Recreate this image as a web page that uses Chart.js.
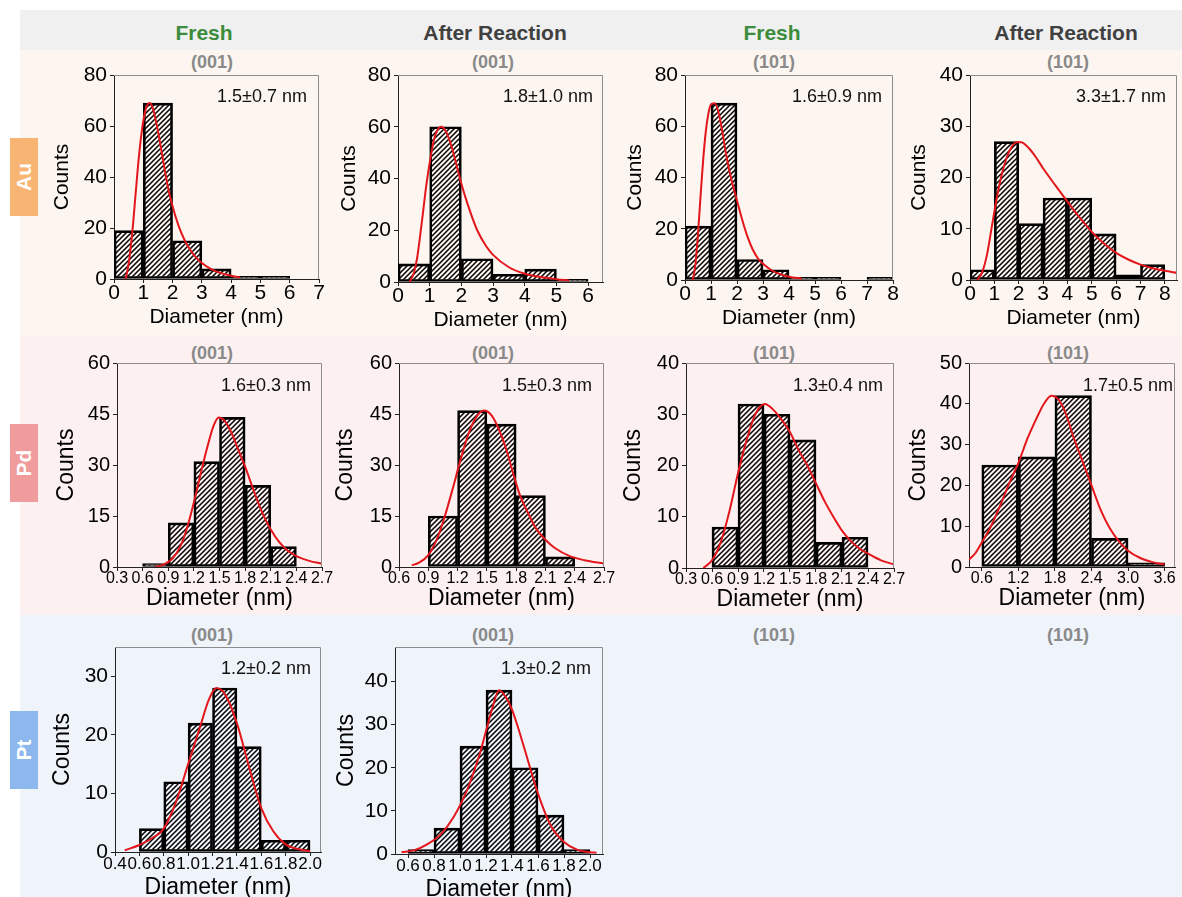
<!DOCTYPE html>
<html>
<head>
<meta charset="utf-8">
<title>Particle size distributions</title>
<script src="https://cdn.jsdelivr.net/npm/chart.js@4/dist/chart.umd.min.js"></script>
<style>
  html, body { margin: 0; padding: 0; background: #fff; }
  #fig { position: relative; width: 1182px; height: 897px; overflow: hidden;
         font-family: "Liberation Sans", Arial, Helvetica, sans-serif; }
  .band { position: absolute; left: 20px; width: 1162px; }
  .col { position: absolute; top: 18px; line-height: 30px; font-size: 21px; font-weight: bold;
         transform: translateX(-50%); white-space: nowrap; }
  .badge { position: absolute; left: 10px; width: 28px; height: 78px; }
  .badge span { position: absolute; left: 50%; top: 50%; color: #fff; font-weight: bold; font-size: 21px;
                transform: translate(-50%, -50%) rotate(-90deg); white-space: nowrap; }
  .facet { position: absolute; font-size: 18px; line-height: 20px; font-weight: bold; color: #8a8a8a;
           transform: translate(-50%, -50%); white-space: nowrap; }
  canvas { position: absolute; }
</style>
</head>
<body>
<div id="fig">
  <div class="band" style="top:10px;height:40px;background:#f0f0f0;"></div>
  <div class="band" style="top:50px;height:285px;background:#fdf6f0;"></div>
  <div class="band" style="top:335px;height:280px;background:#fcf0f0;"></div>
  <div class="band" style="top:615px;height:282px;background:#eff3fa;"></div>

  <div class="col" style="left:204px;color:#3b8c3b;">Fresh</div>
  <div class="col" style="left:495px;color:#404040;">After Reaction</div>
  <div class="col" style="left:772px;color:#3b8c3b;">Fresh</div>
  <div class="col" style="left:1066px;color:#404040;">After Reaction</div>

  <div class="badge" style="top:138px;background:#f7b473;"><span>Au</span></div>
  <div class="badge" style="top:424px;background:#f19c9c;"><span>Pd</span></div>
  <div class="badge" style="top:711px;background:#8db8ee;"><span>Pt</span></div>

  <div class="facet" style="left:212px;top:62px;">(001)</div>
  <div class="facet" style="left:493px;top:62px;">(001)</div>
  <div class="facet" style="left:774px;top:62px;">(101)</div>
  <div class="facet" style="left:1068px;top:62px;">(101)</div>
  <div class="facet" style="left:212px;top:353px;">(001)</div>
  <div class="facet" style="left:493px;top:353px;">(001)</div>
  <div class="facet" style="left:774px;top:353px;">(101)</div>
  <div class="facet" style="left:1068px;top:353px;">(101)</div>
  <div class="facet" style="left:212px;top:635px;">(001)</div>
  <div class="facet" style="left:493px;top:635px;">(001)</div>
  <div class="facet" style="left:774px;top:635px;">(101)</div>
  <div class="facet" style="left:1068px;top:635px;">(101)</div>
</div>

<script>
// ---------- Au, fresh, (001) ----------
const auFresh001Centers = [0.5, 1.5, 2.5, 3.5, 4.5, 5.5];
const auFresh001Counts  = [19, 69, 15, 4, 1, 1];
const auFresh001FitX = [0.4, 0.5, 0.63, 0.75, 0.85, 0.95, 1.05, 1.15, 1.23, 1.35, 1.5, 1.7, 1.85, 2.0, 2.2, 2.4, 2.6, 2.8, 3.0, 3.3, 3.6, 4.0, 4.3];
const auFresh001FitY = [0, 6, 19, 35, 48, 58, 65, 68.5, 69, 66, 58, 45, 35.5, 28.5, 21, 15.5, 11.5, 8.5, 6.3, 4, 2.5, 1.3, 0.6];

// ---------- Au, after reaction, (001) ----------
const auAfter001Centers = [0.5, 1.5, 2.5, 3.5, 4.5, 5.5];
const auAfter001Counts  = [7, 60, 9, 3, 5, 1];
const auAfter001FitX = [0.37, 0.5, 0.6, 0.7, 0.8, 0.9, 1.0, 1.1, 1.2, 1.35, 1.5, 1.7, 1.85, 2.0, 2.2, 2.5, 2.8, 3.0, 3.5, 4.0, 4.5, 5.0, 5.4];
const auAfter001FitY = [0, 3.5, 9, 18, 28, 38, 46, 53, 57.5, 60, 58.5, 52, 45, 38, 30, 20, 13.5, 10.5, 5.7, 3.2, 1.9, 1.1, 0.6];

// ---------- Au, fresh, (101) ----------
const auFresh101Centers = [0.5, 1.5, 2.5, 3.5, 4.5, 5.5, 7.5];
const auFresh101Counts  = [21, 69, 8, 4, 1, 1, 1];
const auFresh101FitX = [0.3, 0.4, 0.5, 0.6, 0.7, 0.8, 0.9, 1.0, 1.15, 1.3, 1.45, 1.6, 1.8, 2.0, 2.2, 2.4, 2.6, 2.8, 3.0, 3.3, 3.6, 4.0, 4.5];
const auFresh101FitY = [0, 6, 18, 33, 47, 58, 65, 68.5, 69, 65, 57, 48, 38.5, 31, 23.5, 17, 12, 8.5, 6.3, 4, 2.5, 1.3, 0.5];

// ---------- Au, after reaction, (101) ----------
const auAfter101Centers = [0.5, 1.5, 2.5, 3.5, 4.5, 5.5, 6.5, 7.5];
const auAfter101Counts  = [2, 27, 11, 16, 16, 9, 1, 3];
const auAfter101FitX = [0.3, 0.5, 0.7, 0.9, 1.1, 1.3, 1.5, 1.7, 1.9, 2.1, 2.4, 2.7, 3.0, 3.5, 4.0, 4.5, 5.0, 5.5, 6.0, 6.5, 7.0, 7.5, 8.0, 8.5];
const auAfter101FitY = [0, 1.5, 5, 10.5, 16, 20.5, 23.8, 25.9, 26.9, 26.9, 25.8, 24, 21.8, 18.5, 15.3, 12.2, 9.4, 7.1, 5.3, 4, 3, 2.3, 1.8, 1.4];

// ---------- Pd, fresh, (001) ----------
const pdFresh001Centers = [0.75, 1.05, 1.35, 1.65, 1.95, 2.25];
const pdFresh001Counts  = [1, 13, 31, 44, 24, 6];
const pdFresh001FitX = [0.75, 0.85, 0.95, 1.05, 1.12, 1.2, 1.28, 1.36, 1.43, 1.49, 1.56, 1.64, 1.72, 1.8, 1.9, 2.0, 2.1, 2.2, 2.3, 2.4, 2.55, 2.7];
const pdFresh001FitY = [0, 0.8, 2.5, 6.5, 11.5, 19, 27.5, 35.5, 41.5, 44, 43, 39.5, 34.5, 29.5, 22.5, 16, 11, 7.3, 4.8, 3.2, 1.8, 1];

// ---------- Pd, after reaction, (001) ----------
const pdAfter001Centers = [1.05, 1.35, 1.65, 1.95, 2.25];
const pdAfter001Counts  = [15, 46, 42, 21, 3];
const pdAfter001FitX = [0.73, 0.8, 0.9, 1.0, 1.07, 1.15, 1.23, 1.31, 1.39, 1.47, 1.55, 1.63, 1.7, 1.77, 1.84, 1.92, 2.0, 2.1, 2.2, 2.35, 2.5, 2.7];
const pdAfter001FitY = [0.5, 1.2, 3.5, 9, 15, 23, 31.5, 39, 44, 46, 44.5, 40, 34.5, 27.5, 21, 16, 11.5, 8, 5.5, 3.2, 2, 1];

// ---------- Pd, fresh, (101) ----------
const pdFresh101Centers = [0.75, 1.05, 1.35, 1.65, 1.95, 2.25];
const pdFresh101Counts  = [8, 32, 30, 25, 5, 6];
const pdFresh101FitX = [0.5, 0.6, 0.7, 0.8, 0.9, 1.0, 1.1, 1.21, 1.3, 1.4, 1.5, 1.6, 1.7, 1.8, 1.9, 2.0, 2.1, 2.2, 2.3, 2.4, 2.55, 2.7];
const pdFresh101FitY = [0, 1.5, 5, 11, 18.5, 25, 30, 32, 31, 29, 26.5, 23, 20, 16.5, 13, 10, 7.3, 5.3, 3.8, 2.8, 1.5, 0.7];

// ---------- Pd, after reaction, (101) ----------
const pdAfter101Centers = [0.9, 1.5, 2.1, 2.7, 3.3];
const pdAfter101Counts  = [25, 27, 42, 7, 1];
const pdAfter101FitX = [0.39, 0.5, 0.6, 0.75, 0.9, 1.05, 1.2, 1.35, 1.5, 1.62, 1.74, 1.86, 1.98, 2.1, 2.25, 2.4, 2.55, 2.7, 2.85, 3.0, 3.2, 3.4, 3.6];
const pdAfter101FitY = [1.8, 3.5, 6, 10, 15, 20.5, 25.5, 31.5, 36.5, 40, 42, 41, 37.5, 32, 26, 20, 14, 9.5, 6.3, 4, 2.2, 1.2, 0.6];

// ---------- Pt, fresh, (001) ----------
const ptFresh001Centers = [0.7, 0.9, 1.1, 1.3, 1.5, 1.7, 1.9];
const ptFresh001Counts  = [4, 12, 22, 28, 18, 2, 2];
const ptFresh001FitX = [0.48, 0.6, 0.7, 0.8, 0.9, 1.0, 1.1, 1.17, 1.23, 1.3, 1.4, 1.5, 1.6, 1.7, 1.8, 1.9, 2.0];
const ptFresh001FitY = [0.3, 1.2, 2.3, 4, 8.5, 15, 21.5, 26, 28, 27, 22, 14.5, 7.5, 3.5, 1.3, 0.5, 0.15];

// ---------- Pt, after reaction, (001) ----------
const ptAfter001Centers = [0.7, 0.9, 1.1, 1.3, 1.5, 1.7, 1.9];
const ptAfter001Counts  = [1, 6, 25, 38, 20, 9, 1];
const ptAfter001FitX = [0.55, 0.65, 0.75, 0.85, 0.95, 1.05, 1.1, 1.15, 1.2, 1.25, 1.3, 1.35, 1.4, 1.45, 1.5, 1.6, 1.7, 1.8, 1.9, 2.0, 2.05];
const ptAfter001FitY = [0.4, 0.9, 2.3, 4.5, 8.5, 14.5, 18.5, 23, 28.5, 34, 38, 36.5, 33.5, 29, 24, 14, 6.5, 2.8, 1, 0.4, 0.3];

// ---------- axis ticks ----------
const ticksAu0to7   = [0, 1, 2, 3, 4, 5, 6, 7];
const ticksAu0to6   = [0, 1, 2, 3, 4, 5, 6];
const ticksAu0to8   = [0, 1, 2, 3, 4, 5, 6, 7, 8];
const ticksPd03to27 = [0.3, 0.6, 0.9, 1.2, 1.5, 1.8, 2.1, 2.4, 2.7];
const ticksPd06to27 = [0.6, 0.9, 1.2, 1.5, 1.8, 2.1, 2.4, 2.7];
const ticksPd06to36 = [0.6, 1.2, 1.8, 2.4, 3.0, 3.6];
const ticksPt04to20 = [0.4, 0.6, 0.8, 1.0, 1.2, 1.4, 1.6, 1.8, 2.0];
const ticksPt06to20 = [0.6, 0.8, 1.0, 1.2, 1.4, 1.6, 1.8, 2.0];
const countTicks80  = [0, 20, 40, 60, 80];
const countTicks40  = [0, 10, 20, 30, 40];
const countTicks60  = [0, 15, 30, 45, 60];
const countTicks50  = [0, 10, 20, 30, 40, 50];
const countTicks30  = [0, 10, 20, 30];

// ---------- drawing ----------
const FONT = '"Liberation Sans", Arial, Helvetica, sans-serif';
const FIT_RED = '#e3161c';
const Y_BOX = 80, X_BOX = 50, PAD_TOP = 30, PAD_RIGHT = 18;

// diagonal "////" fill for the histogram bars
function makeHatch() {
  const c = document.createElement('canvas');
  c.width = 5; c.height = 5;
  const g = c.getContext('2d');
  g.strokeStyle = '#000';
  g.lineWidth = 1.5;
  g.beginPath();
  g.moveTo(-1, 6); g.lineTo(6, -1);
  g.moveTo(-1, 1); g.lineTo(1, -1);
  g.moveTo(4, 6); g.lineTo(6, 4);
  g.stroke();
  return g.createPattern(c, 'repeat');
}
const hatch = makeHatch();

// light grey top and right edges of each plot box
const framePlugin = {
  id: 'frame',
  afterDraw(chart) {
    const { ctx, chartArea: a } = chart;
    ctx.save();
    ctx.strokeStyle = '#8c8c8c';
    ctx.lineWidth = 1;
    ctx.beginPath();
    ctx.moveTo(a.left, a.top + 0.5);
    ctx.lineTo(a.right - 0.5, a.top + 0.5);
    ctx.lineTo(a.right - 0.5, a.bottom);
    ctx.stroke();
    ctx.restore();
  }
};

// mean ± sd note in the upper right corner of a plot
const notePlugin = {
  id: 'note',
  afterDraw(chart, args, opts) {
    if (!opts || !opts.text) return;
    const { ctx, chartArea: a } = chart;
    ctx.save();
    ctx.font = '18px ' + FONT;
    ctx.fillStyle = '#111';
    ctx.textAlign = 'right';
    ctx.textBaseline = 'middle';
    ctx.fillText(opts.text, a.right - opts.inset, a.top + opts.dy);
    ctx.restore();
  }
};

const rowStyles = {
  au: { yTick: 21, xTick: 21, yTitle: 21, xTitle: 21, xTitleOff: 38, dec: 0, noteDy: 22 },
  pd: { yTick: 20, xTick: 16, yTitle: 23, xTitle: 23, xTitleOff: 32, dec: 1, noteDy: 23.5 },
  pt: { yTick: 21, xTick: 17, yTitle: 23, xTitle: 23, xTitleOff: 36, dec: 1, noteDy: 22 }
};

function histogram(p) {
  const s = rowStyles[p.row];
  const fig = document.getElementById('fig');
  const cv = document.createElement('canvas');
  const W = (p.r - p.l) + Y_BOX + PAD_RIGHT;
  const H = (p.b - p.t) + PAD_TOP + X_BOX;
  cv.width = W; cv.height = H;
  cv.style.left = (p.l - Y_BOX) + 'px';
  cv.style.top = (p.t - PAD_TOP) + 'px';
  cv.style.width = W + 'px';
  cv.style.height = H + 'px';
  fig.appendChild(cv);

  const tickGrid = { display: true, drawOnChartArea: false, drawTicks: true, tickLength: 4,
                     tickColor: '#222', offset: false };
  new Chart(cv, {
    type: 'bar',
    data: {
      datasets: [
        {
          type: 'line',
          data: p.fitX.map((x, i) => ({ x, y: p.fitY[i] })),
          borderColor: FIT_RED, borderWidth: 2, pointRadius: 0,
          cubicInterpolationMode: 'monotone', fill: false, order: 0
        },
        {
          type: 'bar',
          data: p.centers.map((x, i) => ({ x, y: p.counts[i] })),
          backgroundColor: hatch, borderColor: '#000', borderWidth: 2,
          borderSkipped: false, barPercentage: 1, categoryPercentage: 1, order: 1
        }
      ]
    },
    options: {
      responsive: false,
      animation: false,
      devicePixelRatio: 1,
      layout: { padding: { left: 0, top: PAD_TOP, right: PAD_RIGHT, bottom: 0 } },
      plugins: {
        legend: { display: false },
        tooltip: { enabled: false },
        note: { text: p.note, inset: p.noteInset, dy: s.noteDy }
      },
      scales: {
        x: {
          type: 'linear', offset: false, min: p.xMin, max: p.xMax,
          grid: tickGrid,
          border: { display: true, color: '#222', width: 1 },
          ticks: {
            autoSkip: false, maxRotation: 0, minRotation: 0, padding: 0, color: '#000',
            font: { family: FONT, size: s.xTick, lineHeight: 1 },
            callback: v => Number(v).toFixed(s.dec)
          },
          title: {
            display: true, text: 'Diameter (nm)', color: '#000',
            font: { family: FONT, size: s.xTitle, lineHeight: 1 },
            padding: { top: 0, bottom: X_BOX - s.xTitleOff - s.xTitle / 2 }
          },
          afterBuildTicks: sc => { sc.ticks = p.xTicks.map(v => ({ value: v })); },
          afterFit: sc => { sc.height = X_BOX; sc.paddingLeft = 0; sc.paddingRight = 0; }
        },
        y: {
          type: 'linear', min: 0, max: p.yMax,
          grid: tickGrid,
          border: { display: true, color: '#222', width: 1 },
          ticks: {
            padding: 3, color: '#000',
            font: { family: FONT, size: s.yTick, lineHeight: 1 },
            callback: v => String(v)
          },
          title: {
            display: true, text: 'Counts', color: '#000',
            font: { family: FONT, size: s.yTitle, lineHeight: 1 },
            padding: { top: Y_BOX - p.countsOff - s.yTitle / 2, bottom: 0 }
          },
          afterBuildTicks: sc => { sc.ticks = p.yTicks.map(v => ({ value: v })); },
          afterFit: sc => { sc.width = Y_BOX; sc.paddingTop = 0; sc.paddingBottom = 0; }
        }
      }
    },
    plugins: [framePlugin, notePlugin]
  });
}

// Au row
histogram({ row: 'au', l: 114, t: 75, r: 319, b: 279, xMin: 0, xMax: 7, xTicks: ticksAu0to7,
  yMax: 80, yTicks: countTicks80, centers: auFresh001Centers, counts: auFresh001Counts,
  fitX: auFresh001FitX, fitY: auFresh001FitY, note: '1.5\u00B10.7 nm', noteInset: 12, countsOff: 52 });
histogram({ row: 'au', l: 398, t: 75, r: 603, b: 282, xMin: 0, xMax: 6.47, xTicks: ticksAu0to6,
  yMax: 80, yTicks: countTicks80, centers: auAfter001Centers, counts: auAfter001Counts,
  fitX: auAfter001FitX, fitY: auAfter001FitY, note: '1.8\u00B11.0 nm', noteInset: 10, countsOff: 49 });
histogram({ row: 'au', l: 685, t: 75, r: 893, b: 280, xMin: 0, xMax: 8, xTicks: ticksAu0to8,
  yMax: 80, yTicks: countTicks80, centers: auFresh101Centers, counts: auFresh101Counts,
  fitX: auFresh101FitX, fitY: auFresh101FitY, note: '1.6\u00B10.9 nm', noteInset: 11, countsOff: 50 });
histogram({ row: 'au', l: 970, t: 75, r: 1177, b: 280, xMin: 0, xMax: 8.5, xTicks: ticksAu0to8,
  yMax: 40, yTicks: countTicks40, centers: auAfter101Centers, counts: auAfter101Counts,
  fitX: auAfter101FitX, fitY: auAfter101FitY, note: '3.3\u00B11.7 nm', noteInset: 11, countsOff: 51 });

// Pd row
histogram({ row: 'pd', l: 117, t: 363, r: 322, b: 567, xMin: 0.3, xMax: 2.7, xTicks: ticksPd03to27,
  yMax: 60, yTicks: countTicks60, centers: pdFresh001Centers, counts: pdFresh001Counts,
  fitX: pdFresh001FitX, fitY: pdFresh001FitY, note: '1.6\u00B10.3 nm', noteInset: 11, countsOff: 50 });
histogram({ row: 'pd', l: 399, t: 363, r: 604, b: 567, xMin: 0.6, xMax: 2.7, xTicks: ticksPd06to27,
  yMax: 60, yTicks: countTicks60, centers: pdAfter001Centers, counts: pdAfter001Counts,
  fitX: pdAfter001FitX, fitY: pdAfter001FitY, note: '1.5\u00B10.3 nm', noteInset: 12, countsOff: 53 });
histogram({ row: 'pd', l: 686, t: 363, r: 894, b: 568, xMin: 0.3, xMax: 2.7, xTicks: ticksPd03to27,
  yMax: 40, yTicks: countTicks40, centers: pdFresh101Centers, counts: pdFresh101Counts,
  fitX: pdFresh101FitX, fitY: pdFresh101FitY, note: '1.3\u00B10.4 nm', noteInset: 11, countsOff: 52 });
histogram({ row: 'pd', l: 969, t: 363, r: 1175, b: 567, xMin: 0.39, xMax: 3.77, xTicks: ticksPd06to36,
  yMax: 50, yTicks: countTicks50, centers: pdAfter101Centers, counts: pdAfter101Counts,
  fitX: pdAfter101FitX, fitY: pdAfter101FitY, note: '1.7\u00B10.5 nm', noteInset: 2, countsOff: 50 });

// Pt row
histogram({ row: 'pt', l: 115, t: 647, r: 321, b: 852, xMin: 0.4, xMax: 2.09, xTicks: ticksPt04to20,
  yMax: 35, yTicks: countTicks30, centers: ptFresh001Centers, counts: ptFresh001Counts,
  fitX: ptFresh001FitX, fitY: ptFresh001FitY, note: '1.2\u00B10.2 nm', noteInset: 10, countsOff: 52 });
histogram({ row: 'pt', l: 395, t: 647, r: 603, b: 854, xMin: 0.5, xMax: 2.1, xTicks: ticksPt06to20,
  yMax: 48, yTicks: countTicks40, centers: ptAfter001Centers, counts: ptAfter001Counts,
  fitX: ptAfter001FitX, fitY: ptAfter001FitY, note: '1.3\u00B10.2 nm', noteInset: 12, countsOff: 48 });
</script>
</body>
</html>
